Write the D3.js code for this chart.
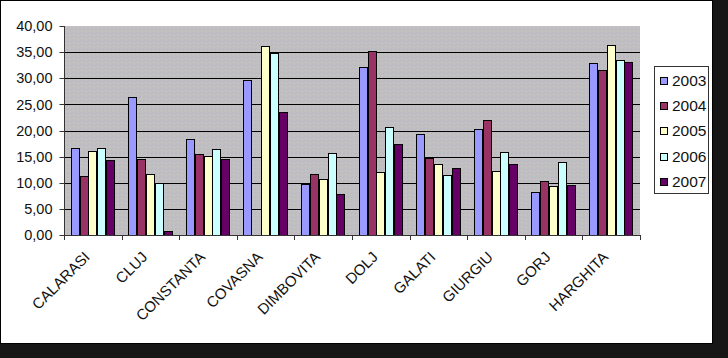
<!DOCTYPE html>
<html><head><meta charset="utf-8">
<script src="https://cdn.jsdelivr.net/npm/d3@7"></script>
<style>html,body{margin:0;padding:0;background:#161616;}svg{display:block;}</style>
</head><body>
<script>
const categories = ["CALARASI","CLUJ","CONSTANTA","COVASNA","DIMBOVITA","DOLJ","GALATI","GIURGIU","GORJ","HARGHITA"];
const seriesNames = ["2003","2004","2005","2006","2007"];
const s2003 = [16.6, 26.4, 18.4, 29.6, 9.7, 32.2, 19.3, 20.2, 8.2, 32.9];
const s2004 = [11.3, 14.6, 15.5, null, 11.6, 35.2, 14.7, 22.1, 10.3, 31.5];
const s2005 = [16.0, 11.6, 15.1, 36.1, 10.7, 12.1, 13.5, 12.2, 9.3, 36.4];
const s2006 = [16.6, 10.0, 16.5, 34.8, 15.7, 20.6, 11.4, 15.8, 14.0, 33.4];
const s2007 = [14.3, 0.8, 14.5, 23.5, 7.8, 17.4, 12.8, 13.5, 9.6, 33.2];
const colors = ["#9999FF","#993366","#FFFFCC","#CCFFFF","#660066"];
const yTicks = [0,5,10,15,20,25,30,35,40];

const allSeries = [s2003,s2004,s2005,s2006,s2007];
const W = 728, H = 358;
const svg = d3.select("body").append("svg").attr("width", W).attr("height", H);
const font = "Arial, 'Liberation Sans', sans-serif";

// white chart area with black frame
svg.append("rect").attr("x",0.5).attr("y",0.5).attr("width",712).attr("height",343)
  .attr("fill","#fff").attr("stroke","#000").attr("stroke-width",1);

// dither pattern
const defs = svg.append("defs");
const pat = defs.append("pattern").attr("id","dith").attr("width",4).attr("height",4).attr("patternUnits","userSpaceOnUse");
pat.append("rect").attr("width",4).attr("height",4).attr("fill","#c0c0c0");
pat.append("rect").attr("x",0).attr("y",0).attr("width",1).attr("height",1).attr("fill","#b8b8c8");
pat.append("rect").attr("x",2).attr("y",2).attr("width",1).attr("height",1).attr("fill","#c8c0c4");
pat.append("rect").attr("x",3).attr("y",1).attr("width",1).attr("height",1).attr("fill","#b4b4b4");

const plot = {l:64, r:640, t:26, b:235};
const x = d3.scaleBand().domain(categories).range([plot.l, plot.r]).paddingInner(0.2308).paddingOuter(0.1154);
const xs = d3.scaleBand().domain(seriesNames).range([0, x.bandwidth()]);
const y = d3.scaleLinear().domain([0,40]).range([plot.b, plot.t]);

svg.append("rect").attr("x",plot.l).attr("y",plot.t).attr("width",plot.r-plot.l).attr("height",plot.b-plot.t).attr("fill","url(#dith)");

// gridlines
svg.append("g").selectAll("line").data(yTicks.filter(t=>t>0 && t<40)).join("line")
  .attr("x1",plot.l).attr("x2",plot.r).attr("y1",d=>Math.round(y(d))+0.5).attr("y2",d=>Math.round(y(d))+0.5)
  .attr("stroke","#000").attr("stroke-width",1);

// bars
seriesNames.forEach((s,si)=>{
  const data = categories.map((c,i)=>({c, v: allSeries[si][i]})).filter(d=>d.v!==null);
  svg.append("g").selectAll("rect").data(data).join("rect")
    .attr("x", d=>Math.round(x(d.c)+xs(s))+0.5)
    .attr("y", d=>Math.round(y(d.v))+0.5)
    .attr("width", Math.round(xs.bandwidth())-1)
    .attr("height", d=>Math.max(0, Math.round(y(0))-Math.round(y(d.v))))
    .attr("fill", colors[si]).attr("stroke","#000").attr("stroke-width",1);
});

// y axis
const ya = svg.append("g").attr("transform",`translate(${plot.l+0.5},0)`);
ya.append("line").attr("x1",0).attr("x2",0).attr("y1",plot.t).attr("y2",plot.b).attr("stroke","#333");
ya.selectAll("line.t").data(yTicks).join("line").attr("class","t")
  .attr("x1",-5).attr("x2",0).attr("y1",d=>Math.round(y(d))+0.5).attr("y2",d=>Math.round(y(d))+0.5).attr("stroke","#333");
ya.selectAll("text").data(yTicks).join("text")
  .attr("x",-12).attr("y",d=>y(d)).attr("dy","0.36em").attr("text-anchor","end")
  .attr("font-family",font).attr("font-size",14.5).attr("fill","#111")
  .text(d=>d3.format(".2f")(d).replace(".",","));

// x axis
const xa = svg.append("g");
xa.append("line").attr("x1",plot.l).attr("x2",plot.r).attr("y1",plot.b+0.5).attr("y2",plot.b+0.5).attr("stroke","#333");
const bounds = categories.map(c=>x(c)-x.step()*x.paddingOuter()).concat([plot.r]);
xa.selectAll("line.t").data(bounds).join("line").attr("class","t")
  .attr("x1",d=>Math.round(d)+0.5).attr("x2",d=>Math.round(d)+0.5).attr("y1",plot.b).attr("y2",plot.b+5).attr("stroke","#333");
xa.selectAll("text").data(categories).join("text")
  .attr("transform",d=>`translate(${x(d)+x.bandwidth()/2-2},${plot.b+23}) rotate(-45)`)
  .attr("text-anchor","end")
  .attr("font-family",font).attr("font-size",15).attr("fill","#111")
  .text(d=>d);

// legend
const lg = svg.append("g");
lg.append("rect").attr("x",654.5).attr("y",66.5).attr("width",54).attr("height",127)
  .attr("fill","#fff").attr("stroke","#333");
seriesNames.forEach((s,i)=>{
  const cy = 80.5 + i*25.2;
  lg.append("rect").attr("x",660.5).attr("y",Math.round(cy-3.5)+0.5).attr("width",7).attr("height",7)
    .attr("fill",colors[i]).attr("stroke","#000");
  lg.append("text").attr("x",672).attr("y",cy).attr("dy","0.36em")
    .attr("font-family",font).attr("font-size",15.5).attr("fill","#111").text(s);
});
</script>
</body></html>
